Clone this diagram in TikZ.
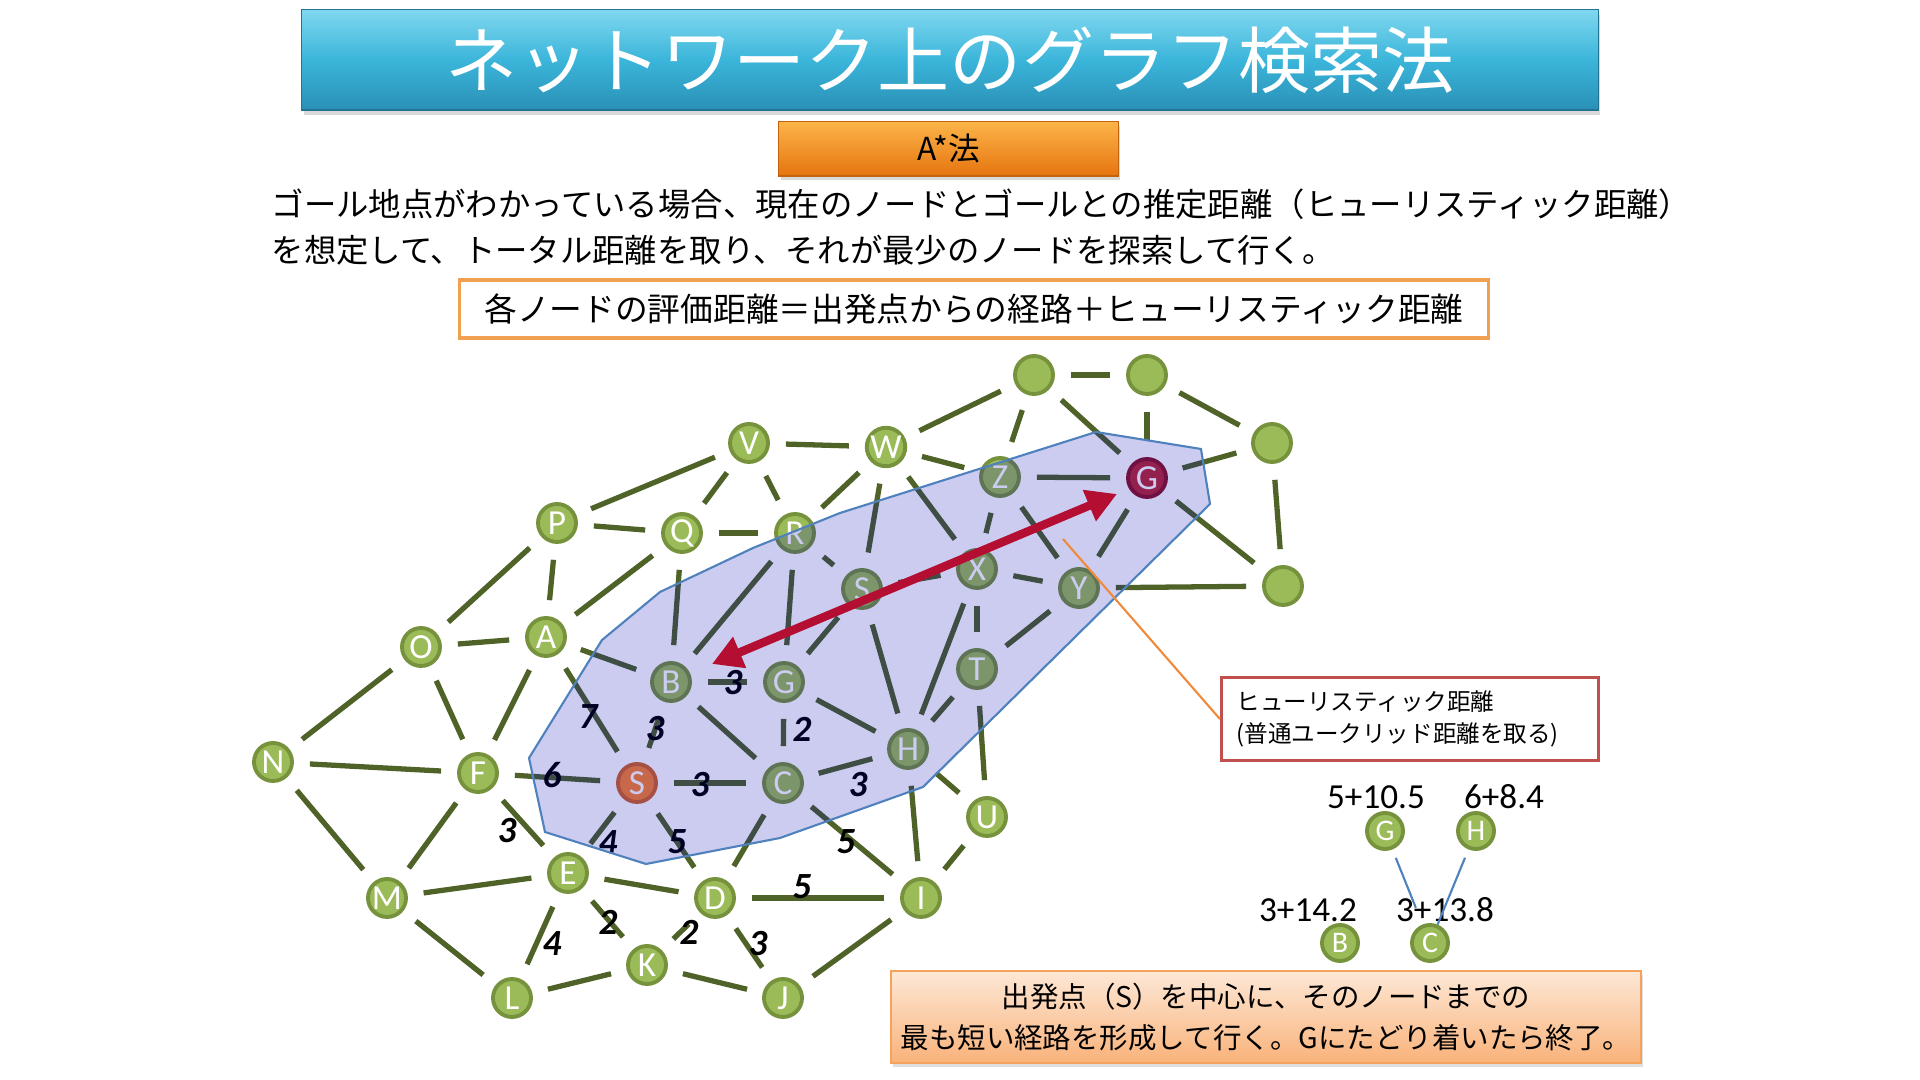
\documentclass[tikz,border=0pt]{standalone}
\usepackage{fontspec}
\newfontfamily\jpfont{Noto Sans CJK JP}
\newfontfamily\calfont{Carlito}
\usetikzlibrary{arrows.meta,shadows}

\definecolor{edgegreen}{HTML}{4F6228}
\definecolor{nodefill}{HTML}{9BBB59}
\definecolor{nodeborder}{HTML}{76923C}
\definecolor{hullblue}{RGB}{0,0,180}
\definecolor{hullline}{HTML}{4F81BD}
\definecolor{arrowred}{HTML}{B40F32}
\definecolor{startfill}{HTML}{FA8331}
\definecolor{startborder}{HTML}{D0642A}
\definecolor{goalfill}{RGB}{185,40,52}
\definecolor{goalborder}{RGB}{140,22,40}
\definecolor{titletop}{HTML}{7FD7EF}
\definecolor{titlemid}{HTML}{3BB5DA}
\definecolor{titlebot}{HTML}{2A90B6}
\definecolor{astartop}{HTML}{FBB448}
\definecolor{astarbot}{HTML}{E6740F}
\definecolor{formborder}{HTML}{F0A050}
\definecolor{callborder}{HTML}{C0504D}
\definecolor{leader}{HTML}{F08A3A}
\definecolor{bottop}{HTML}{FDE8D6}
\definecolor{botbot}{HTML}{F9B27A}
\definecolor{botborder}{HTML}{F5A25C}
\definecolor{miniline}{HTML}{4F81BD}

\tikzset{
  gnode/.style={circle, minimum size=0.38cm, inner sep=0pt, fill=nodefill,
    draw=nodeborder, line width=1.1pt, text=white,
    font=\calfont\fontsize{10}{10}\selectfont},
  startnode/.style={gnode, fill=startfill, draw=startborder},
  goalnode/.style={gnode, fill=goalfill, draw=goalborder},
  mininode/.style={gnode, minimum size=0.36cm, font=\calfont\fontsize{8.5}{8.5}\selectfont},
  link/.style={draw=edgegreen, line width=1.5pt, shorten >=0.16cm, shorten <=0.16cm},
  wlabel/.style={font=\calfont\bfseries\itshape\fontsize{10.5}{10.5}\selectfont,
    text=black, inner sep=0pt},
  minilabel/.style={font=\calfont\fontsize{10}{10}\selectfont, text=black, inner sep=0pt},
  miniconn/.style={draw=miniline, line width=0.6pt},
  bigarrow/.style={draw=arrowred, line width=2.4pt,
    {Triangle[length=0.3cm,width=0.32cm]}-{Triangle[length=0.3cm,width=0.32cm]}},
  titlebox/.style={minimum width=12.96cm, minimum height=1.0cm, inner sep=0pt,
    top color=titletop, bottom color=titlebot, middle color=titlemid,
    draw=titlebot!80!black, line width=0.3pt,
    drop shadow={opacity=0.3, shadow xshift=0.02cm, shadow yshift=-0.05cm},
    text=white, font=\jpfont\fontsize{20.5}{24}\selectfont},
  astarbox/.style={minimum width=3.39cm, minimum height=0.54cm, inner sep=0pt,
    top color=astartop, bottom color=astarbot, draw=astarbot!85!black, line width=0.3pt,
    drop shadow={opacity=0.3, shadow xshift=0.02cm, shadow yshift=-0.04cm},
    text=black, font=\jpfont\fontsize{9}{10}\selectfont},
  formbox/.style={minimum width=10.28cm, minimum height=0.58cm, inner sep=0pt,
    draw=formborder, line width=0.9pt, fill=white,
    font=\jpfont\fontsize{9.3}{11}\selectfont},
  callbox/.style={minimum width=3.77cm, minimum height=0.83cm, inner xsep=0.15cm,
    inner ysep=0pt, text width=3.47cm, align=left, draw=callborder, line width=0.9pt,
    fill=white, font=\jpfont\fontsize{6.7}{9.1}\selectfont},
  botbox/.style={minimum width=7.5cm, minimum height=0.92cm, inner sep=0pt,
    align=center, top color=bottop, bottom color=botbot, draw=botborder, line width=0.5pt,
    drop shadow={opacity=0.25, shadow xshift=0.02cm, shadow yshift=-0.04cm},
    font=\jpfont\fontsize{8.1}{11.7}\selectfont},
  bodytext/.style={inner sep=0pt, align=left, font=\jpfont\fontsize{9.2}{13.1}\selectfont}
}

\begin{document}
\begin{tikzpicture}[x=0.01cm,y=-0.01cm]
\useasboundingbox (0,0) rectangle (1920,1080);

% ---------- header ----------
\node[titlebox] (title) at (950,60) {ネットワーク上のグラフ検索法};
\node[astarbox] (astar) at (948.5,149) {A*法};
\node[bodytext, anchor=west] (body) at (271,227)
  {ゴール地点がわかっている場合、現在のノードとゴールとの推定距離（ヒューリスティック距離）\\
   を想定して、トータル距離を取り、それが最少のノードを探索して行く。};
\node[formbox] (formula) at (974,309) {各ノードの評価距離＝出発点からの経路＋ヒューリスティック距離};

% ---------- graph nodes ----------
\node[gnode] (V) at (749,443) {V};
\node[gnode] (W) at (886,447) {W};
\node[gnode] (t1) at (1034,375) {};
\node[gnode] (t2) at (1147,375) {};
\node[gnode] (r1) at (1272,443) {};
\node[gnode] (r2) at (1283,586) {};
\node[gnode] (Z) at (1000,477) {Z};
\node[goalnode] (Gl) at (1147,478) {G};
\node[gnode] (P) at (557,523) {P};
\node[gnode] (Q) at (682,533) {Q};
\node[gnode] (R) at (795,533) {R};
\node[gnode] (S2) at (862,589) {S};
\node[gnode] (X) at (977,569) {X};
\node[gnode] (Y) at (1079,588) {Y};
\node[gnode] (O) at (421,647) {O};
\node[gnode] (A) at (546,637) {A};
\node[gnode] (B) at (671,682) {B};
\node[gnode] (Gs) at (784,682) {G};
\node[gnode] (T) at (977,669) {T};
\node[gnode] (N) at (273,762) {N};
\node[gnode] (F) at (478,773) {F};
\node[startnode] (S) at (637,783) {S};
\node[gnode] (C) at (783,783) {C};
\node[gnode] (H) at (908,749) {H};
\node[gnode] (U) at (987,817) {U};
\node[gnode] (M) at (387,898) {M};
\node[gnode] (E) at (568,873) {E};
\node[gnode] (D) at (715,898) {D};
\node[gnode] (I) at (921,898) {I};
\node[gnode] (L) at (512,998) {L};
\node[gnode] (K) at (647,965) {K};
\node[gnode] (J) at (783,998) {J};

% ---------- edges ----------
\foreach \a/\b in {P/V, V/W, V/Q, V/R, W/t1, W/R, W/S2, W/X, W/Z, t1/t2, t1/Z, t1/Gl,
  t2/Gl, t2/r1, Gl/r1, r1/r2, Gl/r2, Z/Gl, Gl/Y, Y/r2, Z/X, Z/Y, X/Y, X/S2, R/S2,
  P/Q, Q/R, P/O, P/A, Q/A, Q/B, R/B, R/Gs, O/A, A/B, A/S, A/F, O/N, O/F,
  B/Gs, B/S, B/C, Gs/C, Gs/S2, Gs/H, S2/H, X/H, X/T, T/H, T/Y, T/U, H/U, H/I, U/I,
  C/H, C/I, C/D, S/C, S/F, S/E, S/D, F/N, F/M, F/E, N/M, M/E, M/L, E/D, E/L, E/K,
  L/K, K/D, K/J, D/J, D/I, I/J}
  \draw[link] (\a) -- (\b);

% ---------- weights ----------
\node[wlabel] (w1) at (733,683) {3};
\node[wlabel] (w2) at (588,717) {7};
\node[wlabel] (w3) at (655,729) {3};
\node[wlabel] (w4) at (802,729) {2};
\node[wlabel] (w5) at (552,775) {6};
\node[wlabel] (w6) at (700,785) {3};
\node[wlabel] (w7) at (858,785) {3};
\node[wlabel] (w8) at (608,843) {4};
\node[wlabel] (w9) at (677,842) {5};
\node[wlabel] (w10) at (846,842) {5};
\node[wlabel] (w11) at (507,831) {3};
\node[wlabel] (w12) at (802,887) {5};
\node[wlabel] (w13) at (608,922) {2};
\node[wlabel] (w14) at (689,932) {2};
\node[wlabel] (w15) at (758,944) {3};
\node[wlabel] (w16) at (552,944) {4};

% ---------- search region (translucent hull) ----------
\filldraw[fill=hullblue, fill opacity=0.2, draw=hullline, line width=0.6pt]
  (529,758) -- (602,640) -- (660,592) -- (753,548) -- (840,513) -- (1096,432)
  -- (1201,449) -- (1210,504) -- (923,787) -- (780,838) -- (646,864) -- (545,832) -- cycle;

% ---------- heuristic arrow ----------
\coordinate (arrL) at (712,664);
\coordinate (arrR) at (1117,494);
\draw[bigarrow] (arrL) -- (arrR);

% ---------- callout ----------
\node[callbox, anchor=north west] (callout) at (1220,676)
  {ヒューリスティック距離\\(普通ユークリッド距離を取る)};
\coordinate (leadstart) at (1063,539);
\draw[leader, line width=0.6pt] (leadstart) -- (callout.west);

% ---------- mini tree ----------
\node[mininode] (mG) at (1385,831) {G};
\node[mininode] (mH) at (1476,831) {H};
\node[mininode] (mB) at (1340,943) {B};
\node[mininode] (mC) at (1430,943) {C};
\node[minilabel] (lG) at (1376,797) {5+10.5};
\node[minilabel] (lH) at (1504,797) {6+8.4};
\node[minilabel] (lB) at (1308,910) {3+14.2};
\node[minilabel] (lC) at (1445,910) {3+13.8};
\draw[miniconn, shorten <=0.09cm, shorten >=0.18cm] (mG) -- (mC);
\draw[miniconn, shorten <=0.09cm] (mH) -- (mC);

% ---------- bottom note ----------
\node[botbox] (note) at (1266,1017)
  {出発点（S）を中心に、そのノードまでの\\最も短い経路を形成して行く。Gにたどり着いたら終了。};

\end{tikzpicture}
\end{document}
